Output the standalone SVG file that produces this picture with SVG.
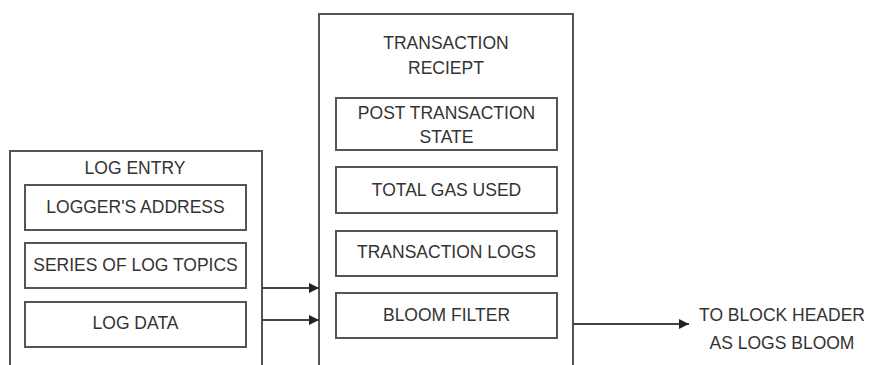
<svg xmlns="http://www.w3.org/2000/svg" width="869" height="365" viewBox="0 0 869 365">
<defs>
<style>
.box{fill:none;stroke:#555;stroke-width:2}
.t{font-family:"Liberation Sans",Arial,sans-serif;font-size:17.5px;fill:#333;text-anchor:middle}
.c{stroke:#444;stroke-width:1.8;fill:none}
</style>
<marker id="ah" viewBox="0 0 10 10" refX="10" refY="5" markerWidth="10" markerHeight="10" markerUnits="userSpaceOnUse" orient="auto">
<path d="M0,0 L10,5 L0,10 z" fill="#222"/>
</marker>
</defs>
<rect width="869" height="365" fill="#fff"/>
<g id="log-entry">
<path class="box" d="M10,366 V151 H262 V366"/>
<text class="t" x="135" y="174">LOG ENTRY</text>
</g>
<g id="loggers-address">
<rect class="box" x="25" y="185" width="221" height="45"/>
<text class="t" x="135.5" y="213">LOGGER'S ADDRESS</text>
</g>
<g id="log-topics">
<rect class="box" x="25" y="243" width="221" height="45"/>
<text class="t" x="135.5" y="271">SERIES OF LOG TOPICS</text>
</g>
<g id="log-data">
<rect class="box" x="25" y="302" width="221" height="45"/>
<text class="t" x="135.5" y="329">LOG DATA</text>
</g>
<g id="transaction-receipt">
<path class="box" d="M319,366 V14 H573 V366"/>
<text class="t" x="446" y="49">TRANSACTION</text>
<text class="t" x="446" y="74">RECIEPT</text>
</g>
<g id="post-state">
<rect class="box" x="336" y="98" width="221" height="52"/>
<text class="t" x="446.5" y="119">POST TRANSACTION</text>
<text class="t" x="446.5" y="143">STATE</text>
</g>
<g id="gas-used">
<rect class="box" x="336" y="167" width="221" height="46"/>
<text class="t" x="446.5" y="196">TOTAL GAS USED</text>
</g>
<g id="transaction-logs">
<rect class="box" x="336" y="231" width="221" height="45"/>
<text class="t" x="446.5" y="258">TRANSACTION LOGS</text>
</g>
<g id="bloom-filter">
<rect class="box" x="336" y="293" width="221" height="45"/>
<text class="t" x="446.5" y="321">BLOOM FILTER</text>
</g>
<g id="block-header">
<text class="t" x="782" y="321">TO BLOCK HEADER</text>
<text class="t" x="782" y="349">AS LOGS BLOOM</text>
</g>
<g id="connectors">
<line class="c" x1="262" y1="288" x2="319" y2="288" marker-end="url(#ah)"/>
<line class="c" x1="262" y1="320" x2="319" y2="320" marker-end="url(#ah)"/>
<line class="c" x1="573" y1="324" x2="689" y2="324" marker-end="url(#ah)"/>
</g>
</svg>
